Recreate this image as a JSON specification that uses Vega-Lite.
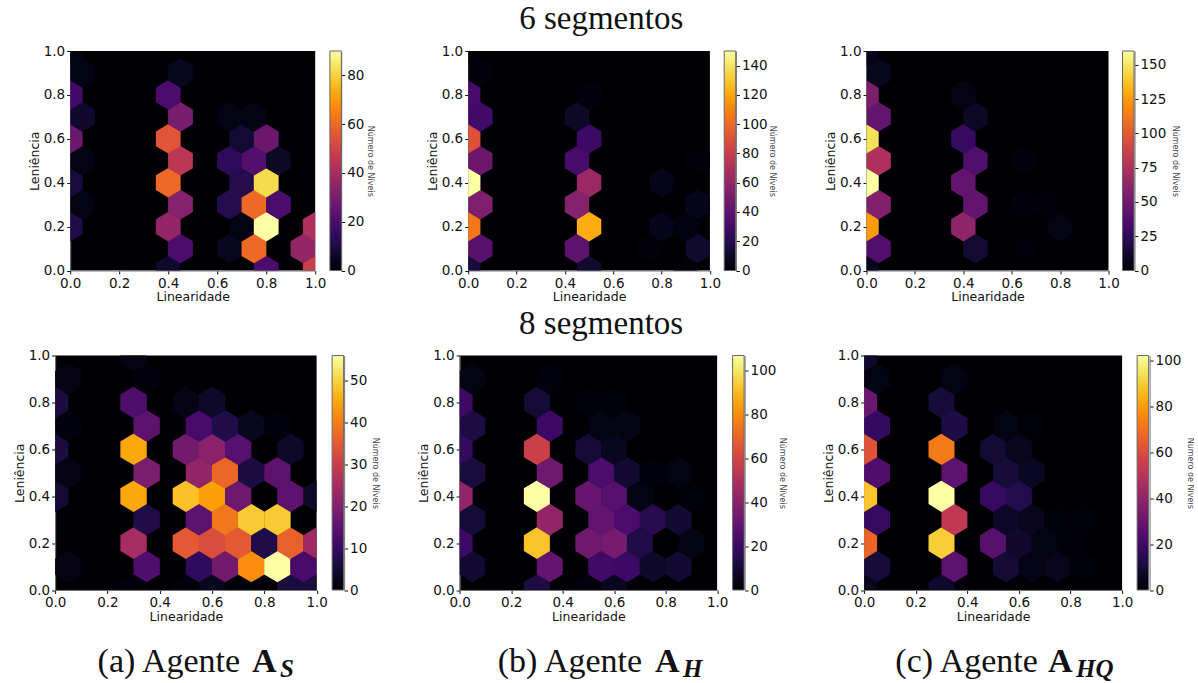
{
"$schema":"https://vega.github.io/schema/vega-lite/v6.json",
"background":"white",
"padding":{"left":13,"top":3,"right":0,"bottom":0},
"config":{"view":{"fill":"#000004","stroke":null},
"axis":{"grid":false,"labelFont":"DejaVu Sans","titleFont":"DejaVu Sans","labelFontSize":13.5,"titleFontSize":12.5,"titleFontWeight":"normal","labelColor":"#111","titleColor":"#111","tickColor":"#111","tickSize":3.5,"domainColor":"#777","labelFlush":false,"labelOverlap":false,"labelPadding":2,"titlePadding":1,"format":".1f"},
"legend":{"gradientStrokeColor":"#666","gradientStrokeWidth":1},
"title":{"fontWeight":"normal","font":"Liberation Serif","color":"#111"}},
"datasets":{
"p1":[{"lin":0.4,"len":0,"n":7},{"lin":0.8,"len":0,"n":20},{"lin":1,"len":0,"n":48},{"lin":0.45,"len":0.1,"n":20},{"lin":0.65,"len":0.1,"n":5},{"lin":0.75,"len":0.1,"n":60},{"lin":0.95,"len":0.1,"n":36},{"lin":0,"len":0.2,"n":11},{"lin":0.4,"len":0.2,"n":36},{"lin":0.7,"len":0.2,"n":3},{"lin":0.8,"len":0.2,"n":90},{"lin":1,"len":0.2,"n":42},{"lin":0.05,"len":0.3,"n":3},{"lin":0.45,"len":0.3,"n":33},{"lin":0.65,"len":0.3,"n":12},{"lin":0.75,"len":0.3,"n":60},{"lin":0.85,"len":0.3,"n":20},{"lin":0,"len":0.4,"n":9},{"lin":0.4,"len":0.4,"n":60},{"lin":0.7,"len":0.4,"n":12},{"lin":0.8,"len":0.4,"n":82},{"lin":0.05,"len":0.5,"n":3},{"lin":0.45,"len":0.5,"n":45},{"lin":0.65,"len":0.5,"n":14},{"lin":0.75,"len":0.5,"n":22},{"lin":0.85,"len":0.5,"n":6},{"lin":0,"len":0.6,"n":27},{"lin":0.4,"len":0.6,"n":55},{"lin":0.7,"len":0.6,"n":8},{"lin":0.8,"len":0.6,"n":27},{"lin":0.05,"len":0.7,"n":7},{"lin":0.45,"len":0.7,"n":30},{"lin":0.65,"len":0.7,"n":3},{"lin":0.75,"len":0.7,"n":3},{"lin":0,"len":0.8,"n":18},{"lin":0.4,"len":0.8,"n":20},{"lin":0.05,"len":0.9,"n":3},{"lin":0.45,"len":0.9,"n":5},{"lin":0,"len":1,"n":3}],
"p2":[{"lin":0,"len":0,"n":15},{"lin":0.5,"len":0,"n":12},{"lin":0.9,"len":0,"n":2},{"lin":0.05,"len":0.1,"n":38},{"lin":0.45,"len":0.1,"n":40},{"lin":0.75,"len":0.1,"n":1},{"lin":0.95,"len":0.1,"n":12},{"lin":0,"len":0.2,"n":105},{"lin":0.5,"len":0.2,"n":122},{"lin":0.8,"len":0.2,"n":7},{"lin":0.9,"len":0.2,"n":4},{"lin":0.05,"len":0.3,"n":52},{"lin":0.45,"len":0.3,"n":55},{"lin":0.95,"len":0.3,"n":7},{"lin":0,"len":0.4,"n":150},{"lin":0.5,"len":0.4,"n":62},{"lin":0.8,"len":0.4,"n":6},{"lin":0.05,"len":0.5,"n":45},{"lin":0.45,"len":0.5,"n":32},{"lin":0.95,"len":0.5,"n":2},{"lin":0,"len":0.6,"n":90},{"lin":0.5,"len":0.6,"n":28},{"lin":0.05,"len":0.7,"n":30},{"lin":0.45,"len":0.7,"n":10},{"lin":0,"len":0.8,"n":32},{"lin":0.5,"len":0.8,"n":3},{"lin":0.05,"len":0.9,"n":3},{"lin":0,"len":1,"n":2}],
"p3":[{"lin":0,"len":0,"n":8},{"lin":0.05,"len":0.1,"n":38},{"lin":0.45,"len":0.1,"n":14},{"lin":0.65,"len":0.1,"n":2},{"lin":0,"len":0.2,"n":125},{"lin":0.4,"len":0.2,"n":62},{"lin":0.8,"len":0.2,"n":5},{"lin":0.05,"len":0.3,"n":58},{"lin":0.45,"len":0.3,"n":45},{"lin":0.65,"len":0.3,"n":3},{"lin":0.75,"len":0.3,"n":2},{"lin":0,"len":0.4,"n":160},{"lin":0.4,"len":0.4,"n":45},{"lin":0.05,"len":0.5,"n":75},{"lin":0.45,"len":0.5,"n":38},{"lin":0.65,"len":0.5,"n":3},{"lin":0,"len":0.6,"n":148},{"lin":0.4,"len":0.6,"n":28},{"lin":0.05,"len":0.7,"n":45},{"lin":0.45,"len":0.7,"n":10},{"lin":0,"len":0.8,"n":55},{"lin":0.4,"len":0.8,"n":5},{"lin":0.05,"len":0.9,"n":8},{"lin":0,"len":1,"n":7}],
"p4":[{"lin":0.3,"len":0,"n":1},{"lin":0.5,"len":0,"n":1},{"lin":0.6,"len":0,"n":3},{"lin":0.7,"len":0,"n":1},{"lin":0.9,"len":0,"n":6},{"lin":1,"len":0,"n":6},{"lin":0.05,"len":0.1,"n":2},{"lin":0.35,"len":0.1,"n":13},{"lin":0.55,"len":0.1,"n":9},{"lin":0.65,"len":0.1,"n":18},{"lin":0.75,"len":0.1,"n":42},{"lin":0.85,"len":0.1,"n":56},{"lin":0.95,"len":0.1,"n":12},{"lin":0.3,"len":0.2,"n":25},{"lin":0.5,"len":0.2,"n":35},{"lin":0.6,"len":0.2,"n":33},{"lin":0.7,"len":0.2,"n":35},{"lin":0.8,"len":0.2,"n":7},{"lin":0.9,"len":0.2,"n":36},{"lin":1,"len":0.2,"n":24},{"lin":0.35,"len":0.3,"n":7},{"lin":0.55,"len":0.3,"n":15},{"lin":0.65,"len":0.3,"n":39},{"lin":0.75,"len":0.3,"n":49},{"lin":0.85,"len":0.3,"n":49},{"lin":0,"len":0.4,"n":5},{"lin":0.3,"len":0.4,"n":45},{"lin":0.5,"len":0.4,"n":48},{"lin":0.6,"len":0.4,"n":44},{"lin":0.7,"len":0.4,"n":17},{"lin":0.9,"len":0.4,"n":15},{"lin":1,"len":0.4,"n":4},{"lin":0.05,"len":0.5,"n":2},{"lin":0.35,"len":0.5,"n":19},{"lin":0.55,"len":0.5,"n":22},{"lin":0.65,"len":0.5,"n":37},{"lin":0.75,"len":0.5,"n":6},{"lin":0.85,"len":0.5,"n":15},{"lin":0,"len":0.6,"n":6},{"lin":0.3,"len":0.6,"n":45},{"lin":0.5,"len":0.6,"n":18},{"lin":0.6,"len":0.6,"n":21},{"lin":0.7,"len":0.6,"n":14},{"lin":0.9,"len":0.6,"n":4},{"lin":0.05,"len":0.7,"n":1},{"lin":0.35,"len":0.7,"n":15},{"lin":0.55,"len":0.7,"n":12},{"lin":0.65,"len":0.7,"n":7},{"lin":0.75,"len":0.7,"n":3},{"lin":0.85,"len":0.7,"n":1},{"lin":0,"len":0.8,"n":6},{"lin":0.3,"len":0.8,"n":13},{"lin":0.5,"len":0.8,"n":2},{"lin":0.6,"len":0.8,"n":4},{"lin":0.05,"len":0.9,"n":2},{"lin":0.35,"len":0.9,"n":1},{"lin":0.3,"len":1,"n":2}],
"p5":[{"lin":0.3,"len":0,"n":12},{"lin":0.5,"len":0,"n":2},{"lin":0.6,"len":0,"n":6},{"lin":0.05,"len":0.1,"n":9},{"lin":0.35,"len":0.1,"n":30},{"lin":0.55,"len":0.1,"n":21},{"lin":0.65,"len":0.1,"n":20},{"lin":0.75,"len":0.1,"n":8},{"lin":0.85,"len":0.1,"n":9},{"lin":0,"len":0.2,"n":20},{"lin":0.3,"len":0.2,"n":92},{"lin":0.5,"len":0.2,"n":33},{"lin":0.6,"len":0.2,"n":35},{"lin":0.7,"len":0.2,"n":13},{"lin":0.9,"len":0.2,"n":4},{"lin":0.05,"len":0.3,"n":10},{"lin":0.35,"len":0.3,"n":43},{"lin":0.55,"len":0.3,"n":30},{"lin":0.65,"len":0.3,"n":24},{"lin":0.75,"len":0.3,"n":15},{"lin":0.85,"len":0.3,"n":9},{"lin":0,"len":0.4,"n":42},{"lin":0.3,"len":0.4,"n":107},{"lin":0.5,"len":0.4,"n":31},{"lin":0.6,"len":0.4,"n":27},{"lin":0.7,"len":0.4,"n":4},{"lin":0.9,"len":0.4,"n":1},{"lin":0.05,"len":0.5,"n":11},{"lin":0.35,"len":0.5,"n":33},{"lin":0.55,"len":0.5,"n":24},{"lin":0.65,"len":0.5,"n":9},{"lin":0.75,"len":0.5,"n":2},{"lin":0.85,"len":0.5,"n":3},{"lin":0,"len":0.6,"n":18},{"lin":0.3,"len":0.6,"n":58},{"lin":0.5,"len":0.6,"n":10},{"lin":0.6,"len":0.6,"n":6},{"lin":0.05,"len":0.7,"n":12},{"lin":0.35,"len":0.7,"n":20},{"lin":0.55,"len":0.7,"n":4},{"lin":0.65,"len":0.7,"n":4},{"lin":0,"len":0.8,"n":20},{"lin":0.3,"len":0.8,"n":10},{"lin":0.5,"len":0.8,"n":1},{"lin":0.6,"len":0.8,"n":1},{"lin":0.05,"len":0.9,"n":3},{"lin":0.35,"len":0.9,"n":2}],
"p6":[{"lin":0,"len":0,"n":5},{"lin":0.3,"len":0,"n":8},{"lin":0.6,"len":0,"n":1},{"lin":0.05,"len":0.1,"n":10},{"lin":0.35,"len":0.1,"n":27},{"lin":0.55,"len":0.1,"n":9},{"lin":0.65,"len":0.1,"n":4},{"lin":0.75,"len":0.1,"n":5},{"lin":0.85,"len":0.1,"n":1},{"lin":0,"len":0.2,"n":67},{"lin":0.3,"len":0.2,"n":90},{"lin":0.5,"len":0.2,"n":26},{"lin":0.6,"len":0.2,"n":8},{"lin":0.7,"len":0.2,"n":3},{"lin":0.8,"len":0.2,"n":1},{"lin":0.05,"len":0.3,"n":18},{"lin":0.35,"len":0.3,"n":52},{"lin":0.55,"len":0.3,"n":7},{"lin":0.65,"len":0.3,"n":5},{"lin":0.75,"len":0.3,"n":1},{"lin":0.85,"len":0.3,"n":1},{"lin":0,"len":0.4,"n":88},{"lin":0.3,"len":0.4,"n":102},{"lin":0.5,"len":0.4,"n":18},{"lin":0.6,"len":0.4,"n":13},{"lin":0.05,"len":0.5,"n":24},{"lin":0.35,"len":0.5,"n":27},{"lin":0.55,"len":0.5,"n":10},{"lin":0.65,"len":0.5,"n":6},{"lin":0,"len":0.6,"n":62},{"lin":0.3,"len":0.6,"n":72},{"lin":0.5,"len":0.6,"n":9},{"lin":0.6,"len":0.6,"n":5},{"lin":0.05,"len":0.7,"n":17},{"lin":0.35,"len":0.7,"n":12},{"lin":0.55,"len":0.7,"n":3},{"lin":0.65,"len":0.7,"n":1},{"lin":0,"len":0.8,"n":30},{"lin":0.3,"len":0.8,"n":10},{"lin":0.05,"len":0.9,"n":3},{"lin":0.35,"len":0.9,"n":3},{"lin":0,"len":1,"n":8}]
},
"center":true,
"spacing":4.5,
"resolve":{"scale":{"color":"independent"},"legend":{"color":"independent"}},
"vconcat":[
{"bounds":"flush","spacing":153,"resolve":{"scale":{"color":"independent"},"legend":{"color":"independent"}},
"title":{"text":"6 segmentos","fontSize":33,"anchor":"start","frame":"group","dx":449,"offset":8},
"hconcat":[
{"width":245,"height":219.5,"data":{"name":"p1"},"resolve":{"scale":{"y":"independent"}},"layer":[
{"mark":{"type":"point","filled":true,"opacity":1,"strokeWidth":0,"clip":true,"size":4,"shape":"M0,-14.8L12.4,-7.4L12.4,7.4L0,14.8L-12.4,7.4L-12.4,-7.4Z"},
"encoding":{"x":{"field":"lin","type":"quantitative","scale":{"domain":[0,1],"nice":false},"axis":{"title":"Linearidade","values":[0,0.2,0.4,0.6,0.8,1],"format":".1f"}},
"y":{"field":"len","type":"quantitative","scale":{"domain":[0,1],"nice":false},"axis":{"title":"Leniência","titlePadding":2,"values":[0,0.2,0.4,0.6,0.8,1],"format":".1f"}},
"color":{"field":"n","type":"quantitative","scale":{"domain":[0,90],"scheme":"inferno"},"legend":{"title":null,"orient":"none","legendX":259.7,"legendY":0,"gradientLength":219.5,"gradientThickness":11.5,"labelOpacity":0,"labelFontSize":1}}}},
{"mark":{"type":"point","opacity":0},"encoding":{"x":{"field":"lin","type":"quantitative"},"y":{"field":"n","type":"quantitative","scale":{"domain":[0,90],"nice":false},"axis":{"orient":"right","offset":26,"values":[0,20,40,60,80],"format":"d","title":"Número de Níveis","titleFontSize":8,"titleAngle":90,"titleColor":"#444","titlePadding":2}}}}
]},
{"hconcat":[
{"width":241.7,"height":219.5,"data":{"name":"p2"},"resolve":{"scale":{"y":"independent"}},"layer":[
{"mark":{"type":"point","filled":true,"opacity":1,"strokeWidth":0,"clip":true,"size":4,"shape":"M0,-14.8L12.2,-7.4L12.2,7.4L0,14.8L-12.2,7.4L-12.2,-7.4Z"},
"encoding":{"x":{"field":"lin","type":"quantitative","scale":{"domain":[0,1],"nice":false},"axis":{"title":"Linearidade","values":[0,0.2,0.4,0.6,0.8,1],"format":".1f"}},
"y":{"field":"len","type":"quantitative","scale":{"domain":[0,1],"nice":false},"axis":{"title":"Leniência","titlePadding":2,"values":[0,0.2,0.4,0.6,0.8,1],"format":".1f"}},
"color":{"field":"n","type":"quantitative","scale":{"domain":[0,150],"scheme":"inferno"},"legend":{"title":null,"orient":"none","legendX":256,"legendY":0,"gradientLength":219.5,"gradientThickness":11.5,"labelOpacity":0,"labelFontSize":1}}}},
{"mark":{"type":"point","opacity":0},"encoding":{"x":{"field":"lin","type":"quantitative"},"y":{"field":"n","type":"quantitative","scale":{"domain":[0,150],"nice":false},"axis":{"orient":"right","offset":26,"values":[0,20,40,60,80,100,120,140],"format":"d","title":"Número de Níveis","titleFontSize":8,"titleAngle":90,"titleColor":"#444","titlePadding":0}}}}
]},
{"width":242,"height":219.5,"data":{"name":"p3"},"resolve":{"scale":{"y":"independent"}},"layer":[
{"mark":{"type":"point","filled":true,"opacity":1,"strokeWidth":0,"clip":true,"size":4,"shape":"M0,-14.8L12.2,-7.4L12.2,7.4L0,14.8L-12.2,7.4L-12.2,-7.4Z"},
"encoding":{"x":{"field":"lin","type":"quantitative","scale":{"domain":[0,1],"nice":false},"axis":{"title":"Linearidade","values":[0,0.2,0.4,0.6,0.8,1],"format":".1f"}},
"y":{"field":"len","type":"quantitative","scale":{"domain":[0,1],"nice":false},"axis":{"title":"Leniência","titlePadding":2,"values":[0,0.2,0.4,0.6,0.8,1],"format":".1f"}},
"color":{"field":"n","type":"quantitative","scale":{"domain":[0,160],"scheme":"inferno"},"legend":{"title":null,"orient":"none","legendX":256,"legendY":0,"gradientLength":219.5,"gradientThickness":11.5,"labelOpacity":0,"labelFontSize":1}}}},
{"mark":{"type":"point","opacity":0},"encoding":{"x":{"field":"lin","type":"quantitative"},"y":{"field":"n","type":"quantitative","scale":{"domain":[0,160],"nice":false},"axis":{"orient":"right","offset":26,"values":[0,25,50,75,100,125,150],"format":"d","title":"Número de Níveis","titleFontSize":8,"titleAngle":90,"titleColor":"#444","titlePadding":5}}}}
]}
],"bounds":"flush","spacing":156.3,"resolve":{"scale":{"color":"independent"},"legend":{"color":"independent"}}}
]},
{"bounds":"flush","resolve":{"scale":{"color":"independent"},"legend":{"color":"independent"}},
"title":{"text":"HQ","orient":"bottom","fontSize":25,"fontWeight":"bold","fontStyle":"italic","anchor":"start","frame":"group","dx":1021,"offset":-25},
"hconcat":[{"bounds":"flush","resolve":{"scale":{"color":"independent"},"legend":{"color":"independent"}},
"title":{"text":"H","orient":"bottom","fontSize":25,"fontWeight":"bold","fontStyle":"italic","anchor":"start","frame":"group","dx":628,"offset":-25},
"hconcat":[{"bounds":"flush","resolve":{"scale":{"color":"independent"},"legend":{"color":"independent"}},
"title":{"text":"S","orient":"bottom","fontSize":25,"fontWeight":"bold","fontStyle":"italic","anchor":"start","frame":"group","dx":225,"offset":-22},
"hconcat":[{"bounds":"flush","resolve":{"scale":{"color":"independent"},"legend":{"color":"independent"}},
"title":{"text":"A","orient":"bottom","fontSize":34,"fontWeight":"bold","anchor":"start","frame":"group","dx":993,"offset":-34},
"hconcat":[{"bounds":"flush","resolve":{"scale":{"color":"independent"},"legend":{"color":"independent"}},
"title":{"text":"A","orient":"bottom","fontSize":34,"fontWeight":"bold","anchor":"start","frame":"group","dx":600,"offset":-34},
"hconcat":[{"bounds":"flush","resolve":{"scale":{"color":"independent"},"legend":{"color":"independent"}},
"title":{"text":"A","orient":"bottom","fontSize":34,"fontWeight":"bold","anchor":"start","frame":"group","dx":197,"offset":-34},
"hconcat":[{"bounds":"flush","spacing":142.5,"resolve":{"scale":{"color":"independent"},"legend":{"color":"independent"}},
"title":{"text":"8 segmentos","fontSize":33,"anchor":"start","frame":"group","dx":464,"offset":8},
"hconcat":[
{"width":261.5,"height":234.5,"data":{"name":"p4"},"title":{"text":"(a) Agente","orient":"bottom","fontSize":34,"anchor":"middle","frame":"group","dx":-17,"offset":22},"resolve":{"scale":{"y":"independent"}},"layer":[
{"mark":{"type":"point","filled":true,"opacity":1,"strokeWidth":0,"clip":true,"size":4,"shape":"M0,-15.8L13.2,-7.9L13.2,7.9L0,15.8L-13.2,7.9L-13.2,-7.9Z"},
"encoding":{"x":{"field":"lin","type":"quantitative","scale":{"domain":[0,1],"nice":false},"axis":{"title":"Linearidade","values":[0,0.2,0.4,0.6,0.8,1],"format":".1f"}},
"y":{"field":"len","type":"quantitative","scale":{"domain":[0,1],"nice":false},"axis":{"title":"Leniência","titlePadding":2,"values":[0,0.2,0.4,0.6,0.8,1],"format":".1f"}},
"color":{"field":"n","type":"quantitative","scale":{"domain":[0,56],"scheme":"inferno"},"legend":{"title":null,"orient":"none","legendX":277,"legendY":0,"gradientLength":234.5,"gradientThickness":11.5,"labelOpacity":0,"labelFontSize":1}}}},
{"mark":{"type":"point","opacity":0},"encoding":{"x":{"field":"lin","type":"quantitative"},"y":{"field":"n","type":"quantitative","scale":{"domain":[0,56],"nice":false},"axis":{"orient":"right","offset":27.5,"values":[0,10,20,30,40,50],"format":"d","title":"Número de Níveis","titleFontSize":8,"titleAngle":90,"titleColor":"#444","titlePadding":4}}}}
]},
{"hconcat":[
{"width":257.5,"height":234.5,"data":{"name":"p5"},"title":{"text":"(b) Agente","orient":"bottom","fontSize":34,"anchor":"middle","frame":"group","dx":-18.5,"offset":22},"resolve":{"scale":{"y":"independent"}},"layer":[
{"mark":{"type":"point","filled":true,"opacity":1,"strokeWidth":0,"clip":true,"size":4,"shape":"M0,-15.8L13,-7.9L13,7.9L0,15.8L-13,7.9L-13,-7.9Z"},
"encoding":{"x":{"field":"lin","type":"quantitative","scale":{"domain":[0,1],"nice":false},"axis":{"title":"Linearidade","values":[0,0.2,0.4,0.6,0.8,1],"format":".1f"}},
"y":{"field":"len","type":"quantitative","scale":{"domain":[0,1],"nice":false},"axis":{"title":"Leniência","titlePadding":2,"values":[0,0.2,0.4,0.6,0.8,1],"format":".1f"}},
"color":{"field":"n","type":"quantitative","scale":{"domain":[0,107],"scheme":"inferno"},"legend":{"title":null,"orient":"none","legendX":273,"legendY":0,"gradientLength":234.5,"gradientThickness":11.5,"labelOpacity":0,"labelFontSize":1}}}},
{"mark":{"type":"point","opacity":0},"encoding":{"x":{"field":"lin","type":"quantitative"},"y":{"field":"n","type":"quantitative","scale":{"domain":[0,107],"nice":false},"axis":{"orient":"right","offset":27.5,"values":[0,20,40,60,80,100],"format":"d","title":"Número de Níveis","titleFontSize":8,"titleAngle":90,"titleColor":"#444","titlePadding":2}}}}
]},
{"width":258,"height":234.5,"data":{"name":"p6"},"title":{"text":"(c) Agente","orient":"bottom","fontSize":34,"anchor":"middle","frame":"group","dx":-26.5,"offset":22},"resolve":{"scale":{"y":"independent"}},"layer":[
{"mark":{"type":"point","filled":true,"opacity":1,"strokeWidth":0,"clip":true,"size":4,"shape":"M0,-15.8L13,-7.9L13,7.9L0,15.8L-13,7.9L-13,-7.9Z"},
"encoding":{"x":{"field":"lin","type":"quantitative","scale":{"domain":[0,1],"nice":false},"axis":{"title":"Linearidade","values":[0,0.2,0.4,0.6,0.8,1],"format":".1f"}},
"y":{"field":"len","type":"quantitative","scale":{"domain":[0,1],"nice":false},"axis":{"title":"Leniência","titlePadding":2,"values":[0,0.2,0.4,0.6,0.8,1],"format":".1f"}},
"color":{"field":"n","type":"quantitative","scale":{"domain":[0,102],"scheme":"inferno"},"legend":{"title":null,"orient":"none","legendX":273,"legendY":0,"gradientLength":234.5,"gradientThickness":11.5,"labelOpacity":0,"labelFontSize":1}}}},
{"mark":{"type":"point","opacity":0},"encoding":{"x":{"field":"lin","type":"quantitative"},"y":{"field":"n","type":"quantitative","scale":{"domain":[0,102],"nice":false},"axis":{"orient":"right","offset":27.5,"values":[0,20,40,60,80,100],"format":"d","title":"Número de Níveis","titleFontSize":8,"titleAngle":90,"titleColor":"#444","titlePadding":5}}}}
]}
],"bounds":"flush","spacing":146.5,"resolve":{"scale":{"color":"independent"},"legend":{"color":"independent"}}}
]}
]}]}]}]}]}]}
]
}
